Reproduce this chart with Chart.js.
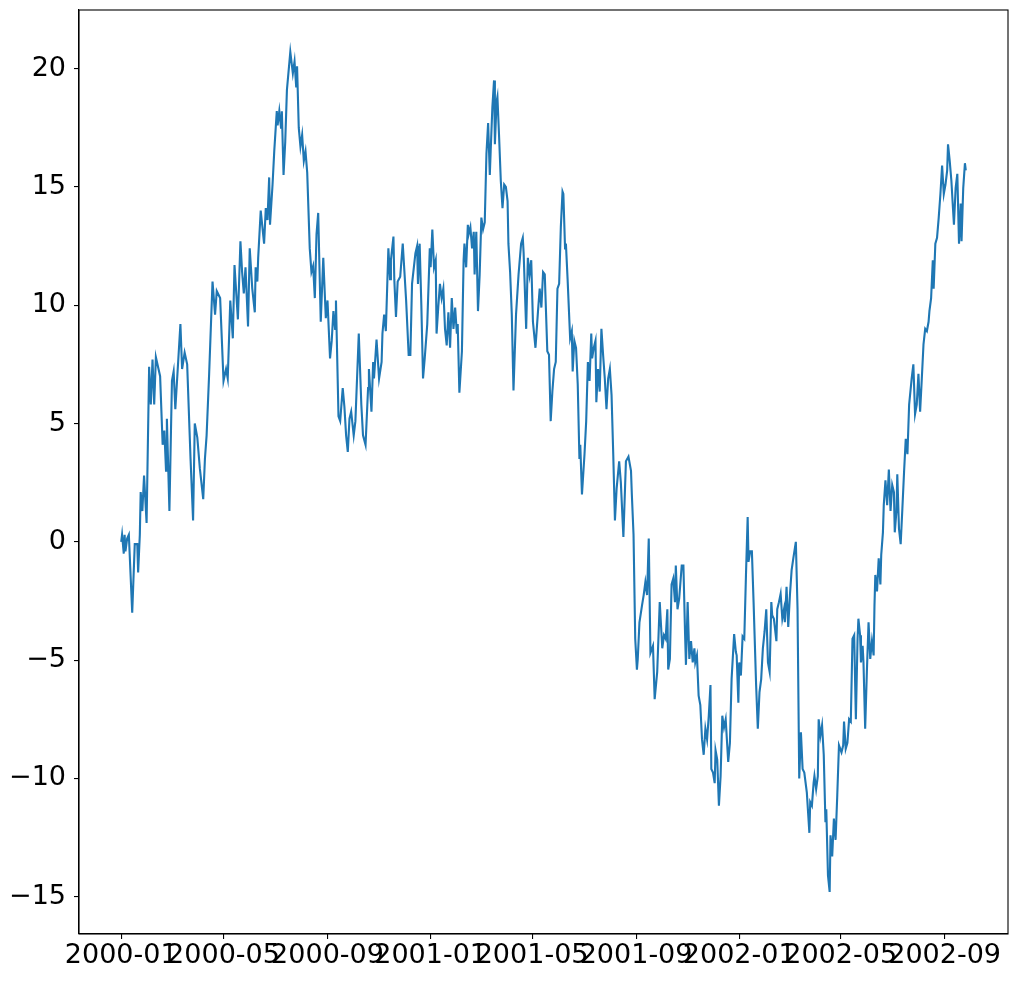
<!DOCTYPE html>
<html>
<head>
<meta charset="utf-8">
<script src="https://cdn.jsdelivr.net/npm/chart.js@4.4.1/dist/chart.umd.min.js"></script>
<style>
html,body{margin:0;padding:0;background:#fff;}
#wrap{width:1018px;height:981px;}
</style>
</head>
<body>
<div id="wrap"><canvas id="c" width="1018" height="981"></canvas></div>
<script>
// Day offsets from 2000-01-01 (daily series, 1000 days)
const days = [0,1,3,4,5,7,9,13,16,19,20,22,23,25,27,30,33,35,37,39,41,46,49,51,53,54,57,60,62,64,70,72,75,78,82,85,87,90,93,97,99,101,104,108,111,113,117,121,124,126,129,132,134,138,141,143,145,147,150,152,155,158,159,161,162,165,167,169,171,173,175,176,179,181,184,185,187,189,190,192,194,196,200,203,205,207,208,210,212,214,216,218,220,223,225,227,229,231,233,236,239,242,244,247,249,251,253,254,257,259,262,264,266,268,270,272,275,277,281,284,286,289,292,293,296,298,299,302,305,308,309,311,313,316,318,319,322,323,325,327,330,333,335,337,340,342,344,348,350,351,353,355,357,359,362,365,366,368,370,372,373,375,377,379,381,383,385,387,389,391,393,395,397,398,400,403,405,406,408,410,411,413,415,417,418,420,422,424,426,428,430,432,434,436,437,439,441,442,444,445,447,449,451,453,455,457,458,460,462,464,467,470,473,475,476,479,481,483,485,487,490,493,495,497,499,501,504,506,508,510,512,514,516,518,520,522,523,525,526,528,531,533,534,536,538,540,542,543,545,548,550,552,554,556,557,559,561,562,564,566,568,570,572,574,576,578,580,582,584,586,589,591,594,597,600,603,604,606,608,610,611,613,616,618,620,622,624,626,629,631,634,637,640,642,644,646,647,649,651,653,655,656,658,660,663,665,667,668,670,672,674,676,678,679,681,683,685,687,689,691,693,695,697,698,700,702,703,705,707,709,711,713,715,718,720,722,725,727,728,730,731,733,735,737,739,741,742,744,746,748,751,753,755,757,759,761,763,765,767,769,770,772,775,776,778,780,782,784,785,787,789,791,793,795,798,800,802,804,806,808,811,814,815,817,819,820,822,824,825,827,829,831,833,834,836,838,839,841,843,845,847,849,852,854,855,857,859,861,863,865,867,869,871,872,874,875,877,878,880,882,884,886,888,890,891,892,894,896,898,899,901,902,904,906,908,910,912,914,915,917,918,920,922,924,926,928,930,932,935,937,939,941,943,945,947,949,951,953,955,956,958,960,961,963,965,967,969,971,973,975,977,978,980,982,984,985,987,989,991,993,994,996,998,999];
const values = [0.0,0.3,-0.5,0.3,-0.4,0.14,0.3,-3.0,-0.1,-0.1,-1.3,0.3,2.1,1.3,2.8,0.8,7.4,5.8,7.7,5.8,7.8,7.0,4.1,4.7,3.0,5.2,1.3,6.8,7.2,5.6,9.2,7.3,8.0,7.5,3.5,0.9,5.0,4.4,3.1,1.8,3.5,4.5,7.1,11.0,9.6,10.6,10.3,6.8,7.3,6.9,10.2,8.6,11.7,9.4,12.7,11.4,10.5,11.6,9.1,12.4,10.7,9.7,11.6,11.0,12.0,14.0,13.3,12.6,14.1,13.6,15.4,13.4,15.1,16.5,18.2,17.6,18.2,17.5,18.2,15.5,16.9,19.1,20.7,19.8,20.3,19.2,20.1,17.5,16.7,17.2,16.1,16.5,15.6,12.4,11.4,11.65,10.3,13.0,13.9,9.3,12.0,9.45,10.2,7.75,8.5,9.75,9.0,10.2,5.3,5.1,6.5,5.7,4.5,3.8,5.2,5.5,4.5,5.1,8.8,5.8,4.5,4.1,6.5,7.3,5.5,7.6,6.9,8.55,6.9,7.6,8.8,9.6,8.9,12.4,11.1,11.9,12.9,11.1,9.5,11.0,11.2,12.6,11.4,10.2,7.9,7.9,10.9,12.2,12.5,10.9,12.6,10.0,6.9,7.75,9.2,12.4,11.6,13.2,11.6,11.9,8.8,9.9,10.9,10.3,10.7,9.0,8.3,9.7,8.2,10.3,9.0,9.9,8.8,9.2,6.3,8.05,11.9,12.6,11.6,13.4,13.0,13.3,12.4,13.1,11.3,13.1,9.75,11.3,13.7,13.2,13.5,16.4,17.7,15.5,16.5,18.35,19.5,16.8,18.6,18.8,17.1,15.25,14.1,15.1,15.0,14.4,12.6,11.4,9.6,6.4,9.6,11.3,12.6,12.85,12.2,9.0,12.0,11.3,11.9,9.3,8.2,9.75,10.7,9.9,11.4,11.3,8.05,7.9,5.1,6.35,7.3,7.6,10.7,10.9,13.3,14.8,14.7,12.4,12.6,11.1,8.6,8.9,7.2,8.5,8.2,6.65,3.5,4.1,2.0,3.7,5.1,7.6,6.8,8.8,7.75,8.2,8.5,5.9,7.3,6.35,9.0,7.9,6.9,5.6,6.9,7.3,6.2,3.7,0.9,2.25,3.4,2.5,0.2,3.4,3.6,3.0,2.0,0.3,-4.1,-5.4,-4.95,-3.4,-2.7,-2.25,-1.7,-2.25,0.14,-4.7,-4.4,-6.65,-5.5,-2.55,-4.5,-3.95,-4.1,-2.85,-5.4,-4.95,-1.8,-1.55,-2.55,-1.0,-2.85,-2.4,-1.0,-1.0,-3.95,-5.2,-2.55,-4.95,-4.2,-5.1,-4.5,-5.1,-4.8,-6.5,-6.9,-8.35,-9.0,-7.9,-8.35,-7.35,-6.05,-9.6,-9.75,-10.2,-8.8,-9.2,-11.15,-9.9,-7.35,-7.85,-7.5,-9.3,-8.5,-5.8,-3.9,-4.65,-4.8,-6.8,-5.1,-5.65,-4.0,-4.1,-1.4,1.05,-0.85,-0.4,-0.4,-2.55,-6.05,-7.9,-6.35,-5.8,-4.5,-3.8,-2.85,-5.1,-5.5,-2.55,-3.1,-3.25,-4.2,-2.85,-2.55,-2.2,-3.25,-2.85,-3.4,-1.9,-3.6,-2.25,-1.2,-0.7,0.0,-2.85,-10.0,-8.05,-9.6,-9.75,-10.6,-12.3,-11.0,-11.15,-10.2,-9.9,-10.45,-9.9,-7.5,-8.2,-7.75,-9.0,-11.85,-11.3,-14.1,-14.8,-12.4,-13.3,-11.7,-12.6,-10.7,-8.6,-8.9,-8.6,-7.6,-8.75,-8.5,-7.5,-7.6,-4.1,-3.95,-7.5,-4.1,-3.25,-3.95,-5.1,-4.4,-5.1,-7.9,-5.5,-3.4,-4.95,-4.2,-4.8,-2.7,-1.4,-2.1,-0.7,-1.8,-0.55,0.4,1.55,2.6,1.55,3.05,1.3,2.4,2.1,0.4,1.3,2.85,0.55,-0.1,1.4,2.95,4.35,3.7,5.8,6.9,7.5,5.4,5.8,7.1,5.5,6.9,8.35,9.0,8.9,9.3,9.75,10.3,11.9,10.7,12.6,12.85,13.7,14.7,15.9,14.7,15.1,15.7,16.8,16.1,15.25,14.0,13.4,14.95,15.55,12.6,14.3,12.7,14.95,16.0,15.7];

const xTickDays = [0,121,244,366,486,609,731,851,974];
const xTickLabels = ['2000-01','2000-05','2000-09','2001-01','2001-05','2001-09','2002-01','2002-05','2002-09'];
const yTickValues = [-15,-10,-5,0,5,10,15,20];

const points = days.map((d,i)=>({x:d,y:values[i]}));
const dMin = Math.min(...days), dMax = Math.max(...days);
const vMin = Math.min(...values), vMax = Math.max(...values);
const xPad = (dMax-dMin)*0.05, yPad = (vMax-vMin)*0.05;

const frame = {
  id:'frame',
  afterDatasetsDraw(chart){
    const a = chart.chartArea, ctx = chart.ctx;
    ctx.save();
    ctx.strokeStyle = '#000';
    ctx.lineWidth = 1.1;
    ctx.strokeRect(a.left, a.top, a.right-a.left, a.bottom-a.top);
    ctx.restore();
  }
};

const font = {family:'DejaVu Sans', size:27};

new Chart(document.getElementById('c'), {
  type:'line',
  data:{datasets:[{data:points, borderColor:'#1f77b4', borderWidth:2.1, pointRadius:0, tension:0, fill:false}]},
  options:{
    responsive:false, animation:false, maintainAspectRatio:false,
    layout:{padding:{top:10,right:10,bottom:0,left:0}},
    plugins:{legend:{display:false}, tooltip:{enabled:false}},
    scales:{
      x:{
        type:'linear', min:dMin-xPad, max:dMax+xPad,
        afterBuildTicks(s){ s.ticks = xTickDays.map(v=>({value:v})); },
        afterFit(s){ s.height = 47; s.paddingLeft = 0; s.paddingRight = 0; },
        ticks:{autoSkip:false, maxRotation:0, minRotation:0, color:'#000', font, padding:1,
          callback(v){ const i = xTickDays.indexOf(v); return i>=0 ? xTickLabels[i] : ''; }},
        grid:{display:true, drawOnChartArea:false, drawTicks:true, tickLength:5, color:'#000', lineWidth:1.1},
        border:{display:true, color:'#000', width:1.1}
      },
      y:{
        type:'linear', min:vMin-yPad, max:vMax+yPad,
        afterBuildTicks(s){ s.ticks = yTickValues.map(v=>({value:v})); },
        afterFit(s){ s.width = 79; s.paddingTop = 0; s.paddingBottom = 0; },
        ticks:{color:'#000', font, padding:8,
          callback(v){ return v<0 ? '\u2212'+Math.abs(v) : String(v); }},
        grid:{display:true, drawOnChartArea:false, drawTicks:true, tickLength:5, color:'#000', lineWidth:1.1},
        border:{display:true, color:'#000', width:1.1}
      }
    }
  },
  plugins:[frame]
});
</script>
</body>
</html>
